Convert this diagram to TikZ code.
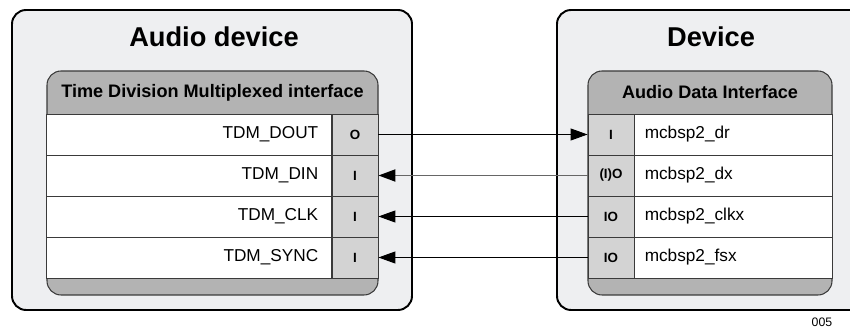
\documentclass[tikz,border=0pt]{standalone}
\usepackage{fontspec}
\setmainfont{Liberation Sans}
\usetikzlibrary{positioning,arrows.meta}

\definecolor{devfill}{HTML}{EEEFF1}
\definecolor{hdrgray}{HTML}{B3B3B3}
\definecolor{portgray}{HTML}{D3D3D3}
\definecolor{rimgray}{HTML}{3A3A3A}
\definecolor{optgray}{HTML}{666666}

\tikzset{
  devbox/.style={draw=black, line width=1.1pt, fill=devfill, rounded corners=8pt},
  ifbox/.style={draw=rimgray, line width=0.6pt, fill=hdrgray, rounded corners=8pt},
  sigcell/.style={draw=rimgray, line width=0.5pt, fill=white, minimum height=0.82cm, inner sep=0pt},
  portcell/.style={draw=rimgray, line width=0.5pt, fill=portgray, minimum width=0.92cm,
    minimum height=0.82cm, inner sep=0pt, font=\fontsize{7.6}{9}\selectfont\bfseries},
  siglbl/.style={inner sep=0pt, font=\fontsize{9.8}{11}\selectfont},
  wire/.style={line width=0.6pt, -{Triangle[length=0.34cm, width=0.24cm, color=black]}},
}

\begin{document}
\begin{tikzpicture}[x=0.02cm, y=-0.02cm]
  \useasboundingbox (0,0) rectangle (850,330);
  \clip (0,0) rectangle (850,330);

  % device frames
  \draw[devbox] (12,10) rectangle (412,310);
  \draw[devbox] (557,10) rectangle (866,310);
  \node[font=\fontsize{15.5}{18}\selectfont\bfseries] (audiottl) at (214,37) {Audio device};
  \node[font=\fontsize{15.5}{18}\selectfont\bfseries] (devttl) at (711,37) {Device};

  % interface blocks
  \draw[ifbox] (47,71) rectangle (378,295);
  \node[font=\fontsize{10.3}{12}\selectfont\bfseries] (tdmhdr) at (212.5,92.5) {Time Division Multiplexed interface};
  \draw[ifbox] (588,71) rectangle (832,295);
  \node[font=\fontsize{10.3}{12}\selectfont\bfseries] (adihdr) at (710,92.5) {Audio Data Interface};

  % left rows
  \node[portcell] (dout) at (355,134.5) {O};
  \node[portcell] (din)  at (355,175.5) {I};
  \node[portcell] (clk)  at (355,216.5) {I};
  \node[portcell] (sync) at (355,257.5) {I};
  \foreach \p in {dout,din,clk,sync}
    \node[sigcell, minimum width=5.7cm, left=0pt of \p] (\p cell) {};
  \node[siglbl, left=0.26cm of dout] (doutlbl) {TDM\_DOUT};
  \node[siglbl, left=0.26cm of din]  (dinlbl)  {TDM\_DIN};
  \node[siglbl, left=0.26cm of clk]  (clklbl)  {TDM\_CLK};
  \node[siglbl, left=0.26cm of sync] (synclbl) {TDM\_SYNC};

  % right rows
  \node[portcell] (dr)   at (611,134.5) {I};
  \node[portcell] (dx)   at (611,175.5) {(I)O};
  \node[portcell] (clkx) at (611,216.5) {IO};
  \node[portcell] (fsx)  at (611,257.5) {IO};
  \foreach \p in {dr,dx,clkx,fsx}
    \node[sigcell, minimum width=3.96cm, right=0pt of \p] (\p cell) {};
  \node[siglbl, right=0.2cm of dr]   (drlbl)   {mcbsp2\_dr};
  \node[siglbl, right=0.2cm of dx]   (dxlbl)   {mcbsp2\_dx};
  \node[siglbl, right=0.2cm of clkx] (clkxlbl) {mcbsp2\_clkx};
  \node[siglbl, right=0.2cm of fsx]  (fsxlbl)  {mcbsp2\_fsx};

  % connections
  \draw[wire] (dout.east) -- (dr.west);
  \draw[wire, draw=optgray, line width=1.1pt] (dx.west) -- (din.east);
  \draw[wire] (clkx.west) -- (clk.east);
  \draw[wire] (fsx.west) -- (sync.east);

  \node[font=\fontsize{7}{8}\selectfont] (figno) at (822,322) {005};
\end{tikzpicture}
\end{document}
